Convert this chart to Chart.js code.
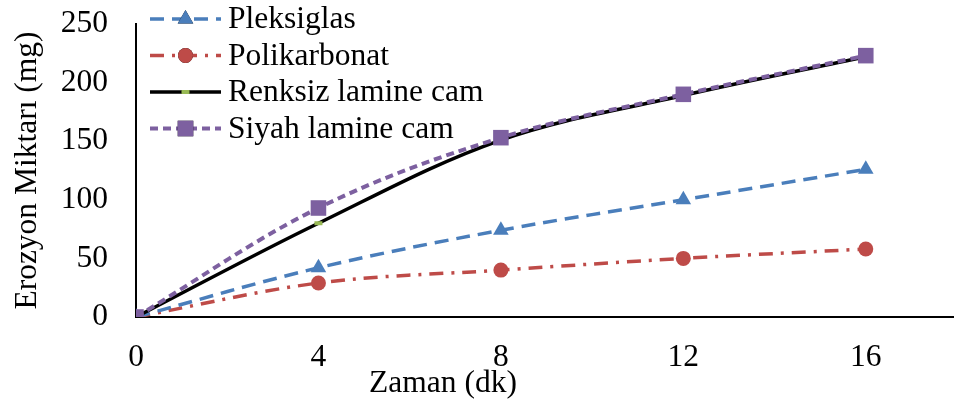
<!DOCTYPE html>
<html>
<head>
<meta charset="utf-8">
<script src="https://cdn.jsdelivr.net/npm/chart.js@4.4.0/dist/chart.umd.min.js"></script>
<style>
  html, body { margin: 0; padding: 0; background: #fff; overflow: hidden; }
  #wrap { width: 968px; height: 407px; }
</style>
</head>
<body>
<div id="wrap"><canvas id="erosionChart" width="968" height="407"></canvas></div>
<script>
(function() {

    // time in minutes
    var zaman = [0, 4, 8, 12, 16];

    // eroded mass (mg) per material
    var pleksiglas = [0, 42, 74, 100, 126];
    var polikarbonat = [0, 29, 40, 50, 58];
    var renksizLamine = [0, 80, 151, 189, 222];
    var siyahLamine = [0, 93, 153, 190, 223];

    var xTicks = [0, 4, 8, 12, 16];
    var yTicks = [0, 50, 100, 150, 200, 250];

    var serif = "'Liberation Serif', 'Times New Roman', serif";
    var fontSize = 31.5;

    function pts(ys) {
        return zaman.map(function(x, i) { return { x: x, y: ys[i] }; });
    }

    var datasets = [
        {
            label: 'Pleksiglas',
            data: pts(pleksiglas),
            borderColor: '#4A7EBB',
            backgroundColor: '#4A7EBB',
            borderWidth: 3.5,
            borderDash: [14, 8],
            pointStyle: 'triangle',
            pointRadius: 9,
            pointBorderWidth: 0,
            order: 2
        },
        {
            label: 'Polikarbonat',
            data: pts(polikarbonat),
            borderColor: '#BE4B48',
            backgroundColor: '#BE4B48',
            borderWidth: 3.5,
            borderDash: [14, 8, 3, 8],
            pointStyle: 'circle',
            pointRadius: 7.5,
            pointBorderWidth: 0,
            order: 3
        },
        {
            label: 'Renksiz lamine cam',
            data: pts(renksizLamine),
            borderColor: '#000000',
            backgroundColor: '#98B954',
            pointBorderColor: '#98B954',
            borderWidth: 3.5,
            borderDash: [],
            pointStyle: 'line',
            pointRadius: 4,
            pointBorderWidth: 4,
            order: 1
        },
        {
            label: 'Siyah lamine cam',
            data: pts(siyahLamine),
            borderColor: '#7D60A0',
            backgroundColor: '#7D60A0',
            borderWidth: 4,
            borderDash: [8, 5],
            pointStyle: 'rect',
            pointRadius: 11,
            pointBorderWidth: 0,
            order: 0
        }
    ];

    // legend drawn inside the plot, top left
    var insideLegend = {
        id: 'insideLegend',
        afterDraw: function(chart) {
            var ctx = chart.ctx;
            var x0 = 150, x1 = 221, tx = 228, y0 = 19, dy = 36.5;
            ctx.save();
            ctx.font = fontSize + 'px ' + serif;
            ctx.textBaseline = 'middle';
            datasets.forEach(function(ds, i) {
                var y = y0 + i * dy;
                ctx.beginPath();
                ctx.setLineDash(ds.borderDash);
                ctx.strokeStyle = ds.borderColor;
                ctx.lineWidth = ds.borderWidth;
                ctx.moveTo(x0, y);
                ctx.lineTo(x1, y);
                ctx.stroke();
                ctx.setLineDash([]);
                Chart.helpers.drawPoint(ctx, {
                    pointStyle: ds.pointStyle,
                    radius: ds.pointRadius,
                    borderWidth: ds.pointBorderWidth
                }, (x0 + x1) / 2, y);
                ctx.fillStyle = ds.backgroundColor;
                ctx.strokeStyle = ds.pointBorderColor || ds.backgroundColor;
                ctx.lineWidth = ds.pointBorderWidth;
                if (ds.pointBorderWidth) { ctx.stroke(); } else { ctx.fill(); }
                ctx.fillStyle = '#000';
                ctx.fillText(ds.label, tx, y + 1);
            });
            ctx.restore();
        }
    };

    // axis titles
    var axisTitles = {
        id: 'axisTitles',
        afterDraw: function(chart) {
            var ctx = chart.ctx;
            var area = chart.chartArea;
            ctx.save();
            ctx.font = fontSize + 'px ' + serif;
            ctx.fillStyle = '#000';
            ctx.textAlign = 'center';
            ctx.textBaseline = 'middle';
            ctx.fillText('Zaman (dk)', area.left + 307, 384);
            ctx.translate(28, (area.top + area.bottom) / 2);
            ctx.rotate(-Math.PI / 2);
            ctx.fillText('Erozyon Miktarı (mg)', 0, 0);
            ctx.restore();
        }
    };

    new Chart(document.getElementById('erosionChart'), {
        type: 'line',
        data: { datasets: datasets },
        options: {
            responsive: false,
            animation: false,
            layout: { padding: { top: 24, right: 2, left: 0, bottom: 0 } },
            plugins: {
                legend: { display: false },
                tooltip: { enabled: false }
            },
            elements: {
                line: { tension: 0.35, fill: false }
            },
            scales: {
                x: {
                    type: 'linear',
                    min: 0,
                    max: 18,
                    afterBuildTicks: function(scale) {
                        scale.ticks = xTicks.map(function(v) { return { value: v }; });
                    },
                    afterFit: function(scale) {
                        scale.height = 90;
                        scale.paddingLeft = 0;
                        scale.paddingRight = 0;
                    },
                    grid: { display: false, drawTicks: false },
                    border: { display: true, color: '#000', width: 2 },
                    ticks: {
                        color: '#000',
                        padding: 22,
                        maxRotation: 0,
                        font: { family: serif, size: fontSize }
                    }
                },
                y: {
                    min: 0,
                    max: 250,
                    afterBuildTicks: function(scale) {
                        scale.ticks = yTicks.map(function(v) { return { value: v }; });
                    },
                    afterFit: function(scale) {
                        scale.width = 136;
                        scale.paddingTop = 0;
                        scale.paddingBottom = 0;
                    },
                    grid: { display: false, drawTicks: false },
                    border: { display: true, color: '#000', width: 2 },
                    ticks: {
                        color: '#000',
                        padding: 28,
                        font: { family: serif, size: fontSize }
                    }
                }
            }
        },
        plugins: [insideLegend, axisTitles]
    });

})();
</script>
</body>
</html>
